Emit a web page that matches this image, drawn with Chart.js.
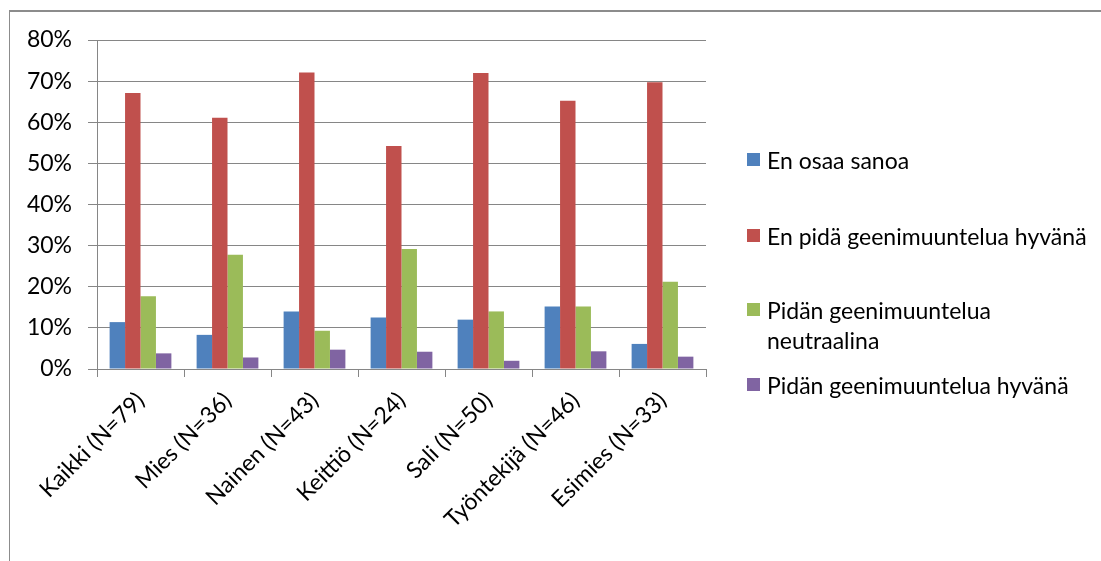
<!DOCTYPE html>
<html>
<head>
<meta charset="utf-8">
<script src="https://cdn.jsdelivr.net/npm/chart.js@4"></script>
<style>
  html, body { margin: 0; padding: 0; background: #fff; }
  #wrap { position: relative; width: 1101px; height: 561px; overflow: hidden; }
  #frame { position: absolute; left: 9px; top: 10px; width: 1200px; height: 700px; border: 1px solid #8c8c8c; border-top-width: 2px; box-sizing: border-box; }
  canvas { position: absolute; left: 0; top: 0; }
  #legend { position: absolute; left: 747px; top: 0; font-family: Lato, "Open Sans", sans-serif; font-size: 23px; color: #000; }
  .item { position: absolute; left: 0; white-space: nowrap; }
  .sw { position: absolute; left: 0; width: 13px; height: 13px; }
  .tx { position: absolute; left: 20px; line-height: 30px; }
</style>
</head>
<body>
<div id="wrap">
  <div id="frame"></div>
  <canvas id="c" width="1101" height="561"></canvas>
  <div id="legend"></div>
</div>
<script>
const categories = ['Kaikki (N=79)', 'Mies (N=36)', 'Nainen (N=43)', 'Keittiö (N=24)', 'Sali (N=50)', 'Työntekijä (N=46)', 'Esimies (N=33)'];
const seriesNames = ['En osaa sanoa', 'En pidä geenimuuntelua hyvänä', ['Pidän geenimuuntelua', 'neutraalina'], 'Pidän geenimuuntelua hyvänä'];
const enOsaaSanoa = [11.4, 8.3, 14.0, 12.5, 12.0, 15.2, 6.1];
const enPidaHyvana = [67.1, 61.1, 72.1, 54.2, 72.0, 65.2, 69.7];
const neutraalina = [17.7, 27.8, 9.3, 29.2, 14.0, 15.2, 21.2];
const pidanHyvana = [3.8, 2.8, 4.7, 4.2, 2.0, 4.3, 3.0];
const yTicks = [0, 10, 20, 30, 40, 50, 60, 70, 80];
const colors = ['#4f81bd', '#c0504d', '#9bbb59', '#8064a2'];
const legendY = [160, 236, 310, 385];

const values = [enOsaaSanoa, enPidaHyvana, neutraalina, pidanHyvana];
const font = "Lato, 'Open Sans', sans-serif";

new Chart(document.getElementById('c'), {
  type: 'bar',
  data: {
    labels: categories,
    datasets: values.map((v, i) => ({
      label: Array.isArray(seriesNames[i]) ? seriesNames[i].join(' ') : seriesNames[i],
      data: v,
      backgroundColor: colors[i],
      borderWidth: 0,
      categoryPercentage: 0.71,
      barPercentage: 1.0
    }))
  },
  options: {
    responsive: false,
    animation: false,
    layout: { padding: { left: 10, right: 395, top: 40, bottom: 0 } },
    plugins: { legend: { display: false }, tooltip: { enabled: false } },
    scales: {
      x: {
        grid: { display: true, drawOnChartArea: false, drawTicks: true, tickLength: 8, color: '#868686', offset: true },
        border: { display: true, color: '#868686', width: 1 },
        ticks: { color: '#000', font: { family: font, size: 23 }, minRotation: 45, maxRotation: 45, padding: 10 },
        afterFit: (s) => { s.height = 192; }
      },
      y: {
        min: 0, max: 80,
        afterBuildTicks: (s) => { s.ticks = yTicks.map(v => ({ value: v })); },
        grid: { color: '#868686', lineWidth: 1, drawTicks: true, tickLength: 9 },
        border: { display: true, color: '#868686', width: 1 },
        ticks: { color: '#000', font: { family: font, size: 23 }, padding: 16, callback: (v) => v + '%' },
        afterFit: (s) => { s.width = 87; }
      }
    }
  }
});

// legend on the right, one entry per series
const lg = document.getElementById('legend');
seriesNames.forEach((name, i) => {
  const lines = Array.isArray(name) ? name : [name];
  const it = document.createElement('div');
  it.className = 'item';
  it.style.top = (legendY[i] - 15) + 'px';
  const sw = document.createElement('div');
  sw.className = 'sw';
  sw.style.background = colors[i];
  sw.style.top = '8px';
  const tx = document.createElement('div');
  tx.className = 'tx';
  tx.innerHTML = lines.join('<br>');
  it.appendChild(sw);
  it.appendChild(tx);
  lg.appendChild(it);
});
</script>
</body>
</html>
